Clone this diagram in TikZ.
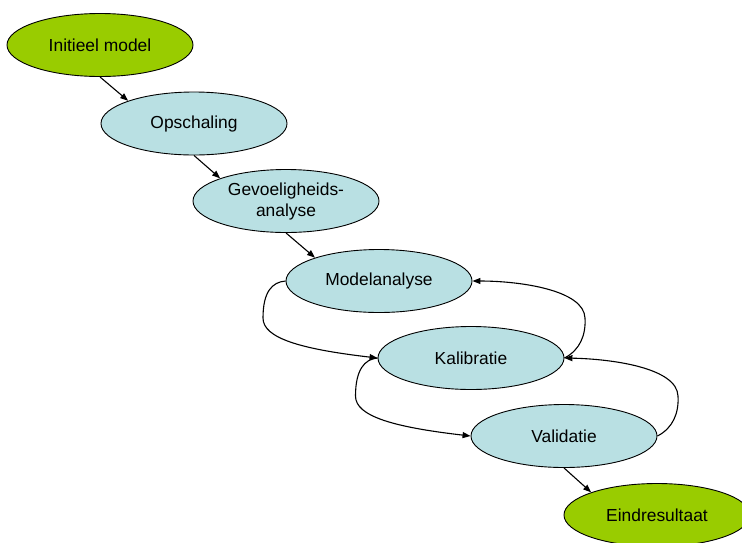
\documentclass[tikz,border=0pt]{standalone}
\usepackage{fontspec}
\setmainfont{Liberation Sans}
\usetikzlibrary{shapes.geometric,arrows.meta}
\definecolor{stepgreen}{RGB}{153,204,0}
\definecolor{stepblue}{RGB}{185,224,227}
\begin{document}
\begin{tikzpicture}[x=1pt,y=-1pt,
  oval/.style={ellipse,draw=black,line width=0.9pt,minimum width=186pt,minimum height=63pt,inner sep=0pt,align=center,font=\fontsize{17.4}{21}\selectfont},
  endoval/.style={oval,fill=stepgreen},
  midoval/.style={oval,fill=stepblue},
  conn/.style={line width=1.1pt,-{Triangle[length=8pt,width=6pt]}}]
\useasboundingbox (0,0) rectangle (742,542);
\clip (0,0) rectangle (742,542);
\fill[white] (0,0) rectangle (742,542);
\node[endoval] (I) at (100,45) {Initieel model};
\node[midoval] (O) at (194,123.5) {Opschaling};
\node[midoval] (G) at (286,201) {Gevoeligheids-\\analyse};
\node[midoval] (M) at (379,281) {Modelanalyse};
\node[midoval] (K) at (471,358) {Kalibratie};
\node[midoval] (V) at (564,436) {Validatie};
\node[endoval] (E) at (657,515) {Eindresultaat};
% straight connectors
\draw[conn] (I.south) -- (O.161);
\draw[conn] (O.south) -- (G.161);
\draw[conn] (G.south) -- (M.160);
\draw[conn] (V.south) -- (E.161);
% left loops
\draw[conn] (M.west) .. controls (272,282) and (263,292) .. (263,318)
  .. controls (263,338) and (300,349) .. (K.west);
\draw[conn] (K.west) .. controls (364.5,359) and (355.5,370) .. (355.5,396)
  .. controls (355.5,416) and (392.5,427) .. (V.west);
% right loops
\draw[conn] (K.east) .. controls (580,350) and (586,335) .. (585,318)
  .. controls (584,290) and (520,281) .. (M.east);
\draw[conn] (V.east) .. controls (673,428) and (679,413) .. (678,396)
  .. controls (677,368) and (613,359) .. (K.east);
\end{tikzpicture}
\end{document}
